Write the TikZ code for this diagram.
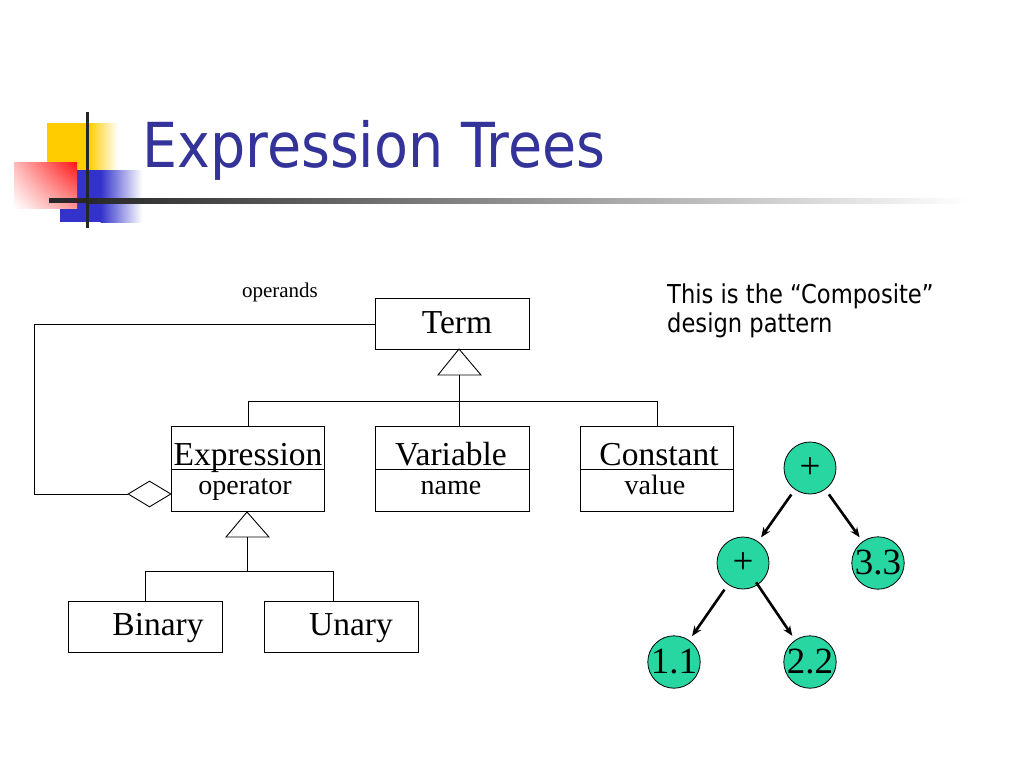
\documentclass[tikz,border=0pt]{standalone}
\usepackage{fontspec}
\setmainfont{Liberation Serif}
\newfontfamily\tahoma[FakeStretch=0.87]{DejaVu Sans}
\newfontfamily\tahomatitle[FakeStretch=0.895]{DejaVu Sans}
\usetikzlibrary{arrows.meta,shapes.geometric,shadings}
\definecolor{titleblue}{RGB}{51,51,153}
\definecolor{logoyellow}{RGB}{255,204,0}
\definecolor{logored}{RGB}{255,20,20}
\definecolor{logoblue}{RGB}{51,51,204}
\definecolor{treegreen}{RGB}{40,214,162}
\definecolor{bargray}{RGB}{40,40,40}
\begin{document}
\begin{tikzpicture}[x=1pt,y=-1pt,
  box/.style={draw=black, line width=0.9pt, anchor=north west, inner sep=0pt, minimum width=#1},
  cls/.style={font=\fontsize{33.5}{37}\selectfont, anchor=base, inner sep=0pt},
  attr/.style={font=\fontsize{28}{32}\selectfont, anchor=base, inner sep=0pt},
  uml/.style={draw=black, line width=0.9pt},
  tnode/.style={circle, draw=black, line width=0.8pt, fill=treegreen, minimum size=52pt, inner sep=0pt, font=\fontsize{37}{40}\selectfont},
  tarrow/.style={line width=2.6pt, -{Stealth[length=10pt,width=8pt]}, shorten <=6pt, shorten >=5pt}
]
\useasboundingbox (0,0) rectangle (1024,768);
\fill[white] (0,0) rectangle (1024,768);

% ---- logo ----
\fill[logoyellow] (47,123) rectangle (89,171);
\shade[left color=logoyellow, right color=white] (88.5,123) rectangle (118,171);
\fill[logoblue] (60,170) rectangle (101,222);
\shade[left color=logoblue, right color=white] (100.5,170) rectangle (142,222);
\shade[upper left=logored!30, upper right=logored, lower left=white, lower right=logored!45] (14,162) rectangle (77,208);
\fill[bargray] (49,198) rectangle (89,203);
\shade[left color=bargray, right color=white] (88.5,198) rectangle (968,203);
\fill[black!85] (85.5,112) rectangle (89,228);

% ---- title ----
\node[anchor=base west, inner sep=0pt, text=titleblue, font=\tahomatitle\fontsize{62}{70}\selectfont] (title) at (142,167) {Expression Trees};

\node[anchor=base west, inner sep=0pt, font=\tahoma\fontsize{26}{29}\selectfont] (note1) at (667,303) {This is the “Composite”};
\node[anchor=base west, inner sep=0pt, font=\tahoma\fontsize{26}{29}\selectfont] (note2) at (667,332) {design pattern};

% ---- UML boxes ----
\node[box=154pt, minimum height=51pt] (term) at (375,298) {};
\node[box=153pt, minimum height=85pt] (expr) at (171,426) {};
\node[box=154pt, minimum height=85pt] (var) at (375,426) {};
\node[box=153pt, minimum height=85pt] (const) at (580,426) {};
\node[box=154pt, minimum height=51pt] (bin) at (68,601) {};
\node[box=154pt, minimum height=51pt] (un) at (264,601) {};

\coordinate (div) at (0,469);
\draw[uml] (expr.west |- div) -- (expr.east |- div);
\draw[uml] (var.west |- div) -- (var.east |- div);
\draw[uml] (const.west |- div) -- (const.east |- div);

\node[cls] (termt) at (457,333) {Term};
\node[cls] (exprt) at (248,465) {Expression};
\node[attr] (expra) at (245,494) {operator};
\node[cls] (vart) at (451,465) {Variable};
\node[attr] (vara) at (451,494) {name};
\node[cls] (constt) at (659,465) {Constant};
\node[attr] (consta) at (655,494) {value};
\node[cls] (bint) at (158,635) {Binary};
\node[cls] (unt) at (351,635) {Unary};
\node[anchor=base, inner sep=0pt, font=\fontsize{21}{24}\selectfont] (oper) at (280,297) {operands};

% ---- generalization Term ----
\coordinate (t1apex) at (459,349);
\coordinate (t1base) at (459,375);
\draw[uml, fill=white] (t1apex) -- (438,375) -- (481,375) -- cycle;
\draw[uml] (t1base) -- (t1base |- var.north);
\coordinate (bus1) at (0,401);
\draw[uml] (expr.north) -- (expr.north |- bus1) -- (const.north |- bus1) -- (const.north);

% ---- generalization Expression ----
\coordinate (t2apex) at (247,512);
\coordinate (t2base) at (247,537);
\draw[uml, fill=white] (t2apex) -- (226,537) -- (269,537) -- cycle;
\coordinate (bus2) at (0,571);
\coordinate (unjoin) at (333,601);
\draw[uml] (t2base) -- (t2base |- bus2);
\draw[uml] (bin.north) -- (bin.north |- bus2) -- (unjoin |- bus2) -- (unjoin);

% ---- aggregation ----
\node[diamond, draw=black, line width=0.9pt, fill=white, minimum width=43pt, minimum height=26pt, inner sep=0pt] (dia) at (149.5,494) {};
\coordinate (aggc) at (34,0);
\draw[uml] (term.west) -- (term.west -| aggc) -- (aggc |- dia.west) -- (dia.west);

% ---- expression tree ----
\node[tnode] (r) at (810,468) {+};
\node[tnode] (l) at (743,563) {+};
\node[tnode] (c33) at (878,563) {3.3};
\node[tnode] (c11) at (674,662) {1.1};
\node[tnode] (c22) at (810,662) {2.2};
\draw[tarrow] (r) -- (l);
\draw[tarrow] (r) -- (c33);
\draw[tarrow] (l) -- (c11);
\draw[tarrow, shorten <=-3pt] (l) -- (c22);
\end{tikzpicture}
\end{document}
